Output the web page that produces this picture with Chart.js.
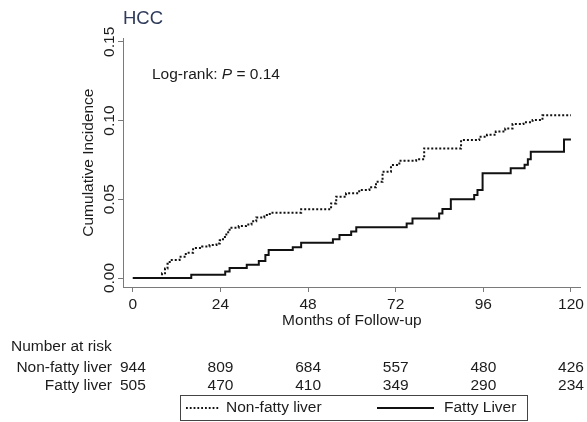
<!DOCTYPE html>
<html>
<head>
<meta charset="utf-8">
<script src="https://cdn.jsdelivr.net/npm/chart.js@4"></script>
<style>
  body { margin: 0; background: #fff; }
  #grafica { display: block; }
</style>
</head>
<body>
<canvas id="grafica" width="587" height="422"></canvas>
<script>
const FUENTE = '"Liberation Sans", Arial, Helvetica, sans-serif';
const TAM = 15.5;

// curvas de incidencia acumulada (mes, valor)
const mesesNoGraso = [0, 7.2, 8, 8.8, 9.5, 10.1, 12.8, 14.5, 16.5, 19, 21, 22.9, 23.8, 24.7, 25.6, 26.5, 29, 31, 32.5, 33.8, 36, 37.5,
  46.1, 53, 54.3, 55.7, 58.4, 62, 64.8, 66.6, 68.4, 70.7, 73, 77.6, 79.8, 88.5, 89.9, 94.9, 97, 99.4, 102, 104, 107, 109.5, 112.2, 120];
const incidNoGraso = [0, 0, 0.003, 0.006, 0.009, 0.0115, 0.0135, 0.016, 0.019, 0.020, 0.021, 0.022, 0.024, 0.026, 0.029, 0.032, 0.033, 0.034, 0.036, 0.0385, 0.040, 0.0415,
  0.0436, 0.0436, 0.0474, 0.0516, 0.0538, 0.0559, 0.0576, 0.0611, 0.0675, 0.0717, 0.0745, 0.0754, 0.0823, 0.0823, 0.0876, 0.0897, 0.091, 0.093, 0.095, 0.0978, 0.099, 0.1003, 0.1033, 0.1033];

const mesesGraso = [0, 16, 25.3, 26.5, 31.2, 34.5, 36.3, 37.2, 43.8, 46.1, 54.8, 56.6, 59.8, 61.2, 75, 76.6, 83.9, 84.8, 87.1, 93.5, 94.4, 95.8,
  103.5, 107.3, 108.2, 109, 118.1, 120];
const incidGraso = [0, 0.002, 0.0042, 0.0064, 0.0085, 0.0108, 0.0146, 0.0178, 0.0196, 0.0224, 0.0247, 0.0273, 0.0296, 0.0322, 0.0347, 0.0378, 0.041, 0.0438, 0.050, 0.0527, 0.0559, 0.0665,
  0.0697, 0.072, 0.0755, 0.0802, 0.0880, 0.0880];

// ejes
const ticksMeses = [0, 24, 48, 72, 96, 120];
const ticksIncid = [0, 0.05, 0.10, 0.15];

// numero en riesgo
const enRiesgoNoGraso = [944, 809, 684, 557, 480, 426];
const enRiesgoGraso = [505, 470, 410, 349, 290, 234];

const aPuntos = (xs, ys) => xs.map((m, i) => ({ x: m, y: ys[i] }));

const extras = {
  id: 'extras',
  afterDraw(chart) {
    const ctx = chart.ctx;
    const ejeX = chart.scales.x;
    const normal = TAM + 'px ' + FUENTE;
    ctx.save();
    ctx.fillStyle = '#1c1c1c';
    ctx.textBaseline = 'middle';

    // Log-rank
    let px = 152;
    const py = 75;
    ctx.textAlign = 'left';
    ctx.font = normal;
    ctx.fillText('Log-rank: ', px, py);
    px += ctx.measureText('Log-rank: ').width;
    ctx.font = 'italic ' + normal;
    ctx.fillText('P', px, py);
    px += ctx.measureText('P').width;
    ctx.font = normal;
    ctx.fillText(' = 0.14', px, py);

    // tabla de numero en riesgo
    ctx.fillText('Number at risk', 11, 347);
    ctx.textAlign = 'right';
    ctx.fillText('Non-fatty liver', 112, 368);
    ctx.fillText('Fatty liver', 112, 386);
    ctx.textAlign = 'center';
    ticksMeses.forEach((m, i) => {
      const xx = ejeX.getPixelForValue(m);
      ctx.fillText(String(enRiesgoNoGraso[i]), xx, 368);
      ctx.fillText(String(enRiesgoGraso[i]), xx, 386);
    });

    // leyenda con marco
    ctx.strokeStyle = '#444';
    ctx.lineWidth = 1;
    ctx.strokeRect(180.5, 395.5, 347, 25);
    const ly = 408;
    ctx.strokeStyle = '#111';
    ctx.lineWidth = 1.8;
    ctx.setLineDash([1.8, 2.0]);
    ctx.beginPath(); ctx.moveTo(186, ly); ctx.lineTo(219, ly); ctx.stroke();
    ctx.setLineDash([]);
    ctx.lineWidth = 2;
    ctx.beginPath(); ctx.moveTo(377, ly); ctx.lineTo(434, ly); ctx.stroke();
    ctx.textAlign = 'left';
    ctx.fillText('Non-fatty liver', 226, ly);
    ctx.fillText('Fatty Liver', 444, ly);
    ctx.restore();
  }
};

const chart = new Chart(document.getElementById('grafica').getContext('2d'), {
  type: 'line',
  data: {
    datasets: [
      {
        label: 'Non-fatty liver',
        data: aPuntos(mesesNoGraso, incidNoGraso),
        borderColor: '#111',
        borderWidth: 2,
        borderDash: [2, 2],
        borderCapStyle: 'butt',
        stepped: 'before',
        pointRadius: 0,
        fill: false
      },
      {
        label: 'Fatty Liver',
        data: aPuntos(mesesGraso, incidGraso),
        borderColor: '#111',
        borderWidth: 2,
        borderJoinStyle: 'miter',
        stepped: 'before',
        pointRadius: 0,
        fill: false
      }
    ]
  },
  options: {
    responsive: false,
    animation: false,
    layout: { padding: { top: 0, right: 5, bottom: 0, left: 0 } },
    plugins: {
      legend: { display: false },
      tooltip: { enabled: false },
      title: {
        display: true,
        text: 'HCC',
        align: 'start',
        fullSize: false,
        color: '#2f3b5a',
        font: { family: FUENTE, size: 18.5, weight: 'normal' },
        padding: { top: 8, bottom: 8 }
      }
    },
    scales: {
      x: {
        type: 'linear',
        min: -2.7,
        max: 122.7,
        afterBuildTicks: s => { s.ticks = ticksMeses.map(v => ({ value: v })); },
        afterFit: s => { s.height = 135; },
        grid: { drawOnChartArea: false, drawTicks: true, tickLength: 5, color: '#7a7a7a' },
        border: { display: true, color: '#7a7a7a', width: 1 },
        ticks: { color: '#1c1c1c', font: { family: FUENTE, size: TAM }, padding: 3, maxRotation: 0, autoSkip: false },
        title: {
          display: true,
          text: 'Months of Follow-up',
          color: '#1c1c1c',
          font: { family: FUENTE, size: TAM },
          padding: { top: 0, bottom: 92 }
        }
      },
      y: {
        type: 'linear',
        min: -0.0057,
        max: 0.1523,
        afterBuildTicks: s => { s.ticks = ticksIncid.map(v => ({ value: v })); },
        afterFit: s => { s.width = 123; },
        grid: { drawOnChartArea: false, drawTicks: true, tickLength: 5, color: '#7a7a7a' },
        border: { display: true, color: '#7a7a7a', width: 1 },
        ticks: {
          color: '#1c1c1c',
          font: { family: FUENTE, size: TAM },
          minRotation: 90,
          maxRotation: 90,
          crossAlign: 'center',
          padding: -6.5,
          callback: v => v.toFixed(2)
        },
        title: {
          display: true,
          text: 'Cumulative Incidence',
          color: '#1c1c1c',
          font: { family: FUENTE, size: TAM },
          padding: { top: 79, bottom: 0 }
        }
      }
    }
  },
  plugins: [extras]
});
</script>
</body>
</html>
